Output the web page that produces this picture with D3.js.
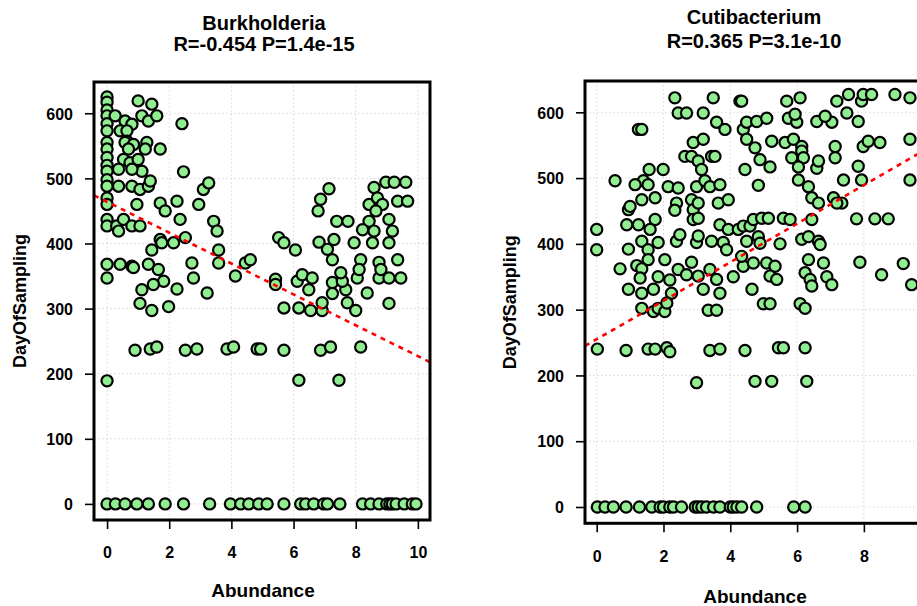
<!DOCTYPE html>
<html>
<head>
<meta charset="utf-8">
<script src="https://cdn.jsdelivr.net/npm/d3@7"></script>
<style>
  body { margin: 0; background: #fff; }
  svg { display: block; }
  text { font-family: "Liberation Sans", Arial, Helvetica, sans-serif; font-weight: bold; fill: #000; }
</style>
</head>
<body>
<svg id="chart" width="917" height="606"></svg>
<script>
// ---- data: [Abundance, DayOfSampling] per sample ----
const burkholderiaPoints = [
  [0,625],[0,617],[0,605],[0,596],[0,584],[0,573],[0,555],[0,545],[0,532],[0,520],[0,511],[0,498],[0,488],[0,470],[0,460],[0,437],[0,427],[0,368],[0,347],[0,189],
  [0.26,596],[0.58,588],[0.8,583],[1.0,619],[1.44,614],[1.12,596],[1.33,588],[1.6,596],[2.41,584],
  [0.42,573],[0.64,573],[0.64,557],[0.58,555],[0.85,552],[1.28,555],[1.23,545],[1.71,545],[0.69,545],
  [0.53,529],[0.74,524],[1.0,529],[0.37,514],[1.12,511],[0.8,514],[2.46,510],
  [0.37,488],[0.8,488],[1.06,483],[1.33,488],[1.39,496],[3.1,483],[3.27,493],
  [0.96,460],[1.71,462],[1.87,450],[2.25,465],[2.95,460],
  [0.31,427],[0.53,437],[0.8,427],[1.06,427],[0.37,419],[2.35,437],[3.43,434],[3.54,419],
  [1.71,406],[1.76,401],[2.14,401],[2.52,409],[1.44,390],[3.59,390],[3.59,370],
  [0.42,368],[0.8,365],[0.85,363],[1.33,368],[1.65,360],[2.73,370],[4.45,370],[4.61,375],
  [1.82,342],[1.49,337],[1.12,329],[2.78,347],[4.13,350],[2.25,330],[3.22,324],
  [1.06,308],[1.44,297],[1.98,303],
  [0.9,236],[1.39,238],[1.6,241],[2.52,236],[2.89,238],[3.86,238],[4.07,241],[4.83,238],
  [4.94,238],[5.69,236],[6.87,236],[7.19,241],[8.16,241],
  [6.17,190],[7.46,190],
  [5.42,345],[5.42,337],[6.12,342],[6.49,329],[6.28,352],[6.6,347],
  [5.69,301],[6.17,301],[6.55,297],[6.92,297],[6.92,309],
  [7.25,340],[7.25,323],[7.68,329],[7.73,309],[8.0,297],[7.57,342],[7.52,355],
  [8.37,324],[9.07,308],[8.05,347],[8.75,347],[9.07,347],[9.45,347],
  [7.14,484],[6.87,468],[6.79,450],[7.39,434],[7.75,434],
  [8.59,486],[8.97,494],[9.24,494],[9.61,494],
  [8.43,460],[8.7,470],[8.86,460],[8.65,450],[9.35,465],[9.67,465],
  [8.43,434],[8.22,421],[8.59,419],[9.07,437],[9.18,419],[9.07,401],
  [7.95,401],[8.54,401],[5.52,409],[5.69,401],[6.06,390],
  [6.82,402],[7.09,391],[7.3,406],[7.25,375],[8.16,375],[8.11,360],
  [8.75,371],[8.81,360],[9.35,375],
  [0,0],[0.27,0],[0.58,0],[0.96,0],[1.33,0],[1.87,0],[2.46,0],[3.3,0],[3.97,0],[4.3,0],[4.56,0],[4.88,0],[5.15,0],
  [5.69,0],[6.23,0],[6.39,0],[6.65,0],[6.97,0],[7.09,0],[7.49,0],[8.22,0],[8.48,0],[8.75,0],[9.0,0],[9.1,0],
  [9.18,0],[9.3,0],[9.56,0],[9.82,0],[9.94,0]
];

const cutibacteriumPoints = [
  [2.34,622],[3.49,622],[4.29,617],[2.44,599],[2.69,599],[3.19,599],[3.59,585],[3.84,574],[4.39,574],[4.49,585],[4.49,559],[1.25,574],[1.35,574],
  [2.89,554],[3.19,559],[2.64,533],[2.84,533],[3.04,526],[3.44,533],[3.54,533],[3.14,513],[4.44,513],[1.57,513],[1.99,513],
  [0.55,496],[1.4,496],[1.15,490],[1.54,490],[2.14,487],[2.44,485],[2.99,487],[3.24,496],[3.39,487],[3.69,490],
  [1.35,467],[1.75,470],[2.84,467],[2.39,462],[2.34,451],[2.89,452],[3.04,462],[3.64,462],[3.94,467],[0.95,452],[1.0,457],
  [1.75,437],[1.6,422],[2.89,437],[3.04,439],[0.9,429],[1.25,429],[0,422],[3.69,429],[3.94,422],[4.24,422],[4.39,427],[4.59,427],
  [1.35,404],[1.84,402],[2.39,404],[2.99,402],[3.44,404],[3.79,402],[3.89,391],[4.49,404],[2.49,414],[3.04,412],
  [0,391],[0.95,392],[1.54,391],[1.54,376],[2.04,376],[2.84,372],
  [0.7,362],[1.2,367],[1.35,362],[2.44,361],[2.69,353],[3.39,361],[3.59,346],[4.09,350],[4.39,366],
  [1.3,348],[1.84,350],[2.19,345],[3.04,351],
  [0.95,331],[1.35,325],[1.7,331],[2.24,325],[3.19,331],[3.69,325],[4.65,331],
  [1.35,302],[1.7,297],[1.84,302],[2.04,297],[2.1,310],[3.34,299],[3.59,299],
  [0.02,240],[0.88,238],[1.54,240],[1.75,240],[2.1,242],[2.19,236],[3.39,238],[3.69,240],[4.44,238],[5.44,242],[5.59,242],[6.24,242],
  [2.99,189],[4.74,191],[5.24,191],[6.29,191],
  [4.34,617],[5.69,617],[6.09,622],[7.19,617],[7.54,627],[7.93,617],[7.98,627],[8.23,627],[8.93,627],[9.38,622],
  [4.79,586],[5.09,591],[5.74,591],[5.99,585],[5.94,597],[6.59,586],[7.04,585],[6.84,594],[7.49,599],[7.83,586],
  [4.74,546],[5.24,556],[5.64,554],[5.89,559],[6.14,548],[6.14,541],[7.14,548],[7.14,531],[7.98,548],[8.13,556],[8.48,554],[9.38,559],
  [4.89,528],[5.19,517],[5.84,531],[6.19,531],[6.04,517],[6.59,515],[6.64,526],[7.83,518],
  [4.84,489],[6.04,497],[6.34,487],[7.39,497],[7.93,497],[9.38,497],
  [6.44,470],[6.64,462],[7.09,470],[7.34,462],[7.19,462],
  [4.69,437],[4.94,439],[5.14,439],[5.59,439],[5.79,437],[6.44,437],
  [7.78,438],[8.33,438],[8.73,438],
  [4.84,411],[4.89,401],[5.49,400],[6.14,407],[6.34,411],[6.64,404],[6.69,399],
  [6.34,376],[6.79,371],[7.88,372],[9.18,370],[4.34,381],[4.69,371],[5.09,371],[5.34,366],
  [6.24,356],[6.39,346],[6.44,336],[6.89,350],[7.04,338],[5.19,351],[5.39,346],[8.53,353],[9.43,338],
  [4.99,309],[5.19,309],[6.09,309],[6.24,302],
  [0.02,0],[0.25,0],[0.5,0],[0.88,0],[1.28,0],[1.65,0],[1.9,0],[2.0,0],[2.19,0],[2.3,0],[2.54,0],[2.95,0],
  [3.04,0],[3.15,0],[3.29,0],[3.5,0],[3.69,0],[4.0,0],[4.09,0],[4.2,0],[4.34,0],[4.79,0],[5.9,0],[6.24,0]
];

const panelTitles = ["Burkholderia", "Cutibacterium"];
const panelStats = ["R=-0.454 P=1.4e-15", "R=0.365 P=3.1e-10"];
const xTicksBurkholderia = [0, 2, 4, 6, 8, 10];
const xTicksCutibacterium = [0, 2, 4, 6, 8];
const yTicks = [0, 100, 200, 300, 400, 500, 600];
// linear fit: [intercept, slope]
const fitBurkholderia = [464, -23.7];
const fitCutibacterium = [255, 29.3];
const xAxisTitle = "Abundance";
const yAxisTitle = "DayOfSampling";

// ---- layout ----
const panels = [
  { points: burkholderiaPoints, xTicks: xTicksBurkholderia, fit: fitBurkholderia,
    title: panelTitles[0], stats: panelStats[0],
    left: 94, right: 430, top: 82, bottom: 520,
    xDomain: [-0.42, 10.39], yDomain: [-24.7, 648],
    titleX: 264, titleY1: 29.5, titleY2: 50.5,
    xTickLabelY: 558, xTitleY: 597, yTickLabelX: 73, yTitleX: 20 },
  { points: cutibacteriumPoints, xTicks: xTicksCutibacterium, fit: fitCutibacterium,
    title: panelTitles[1], stats: panelStats[1],
    left: 585, right: 923, top: 81, bottom: 523.3,
    xDomain: [-0.35, 9.77], yDomain: [-24.8, 647.6],
    titleX: 754, titleY1: 23.5, titleY2: 47.5,
    xTickLabelY: 562, xTitleY: 603, yTickLabelX: 564, yTitleX: 510 }
];

const svg = d3.select("#chart");
svg.append("rect").attr("width", 917).attr("height", 606).attr("fill", "#fff");

panels.forEach((p, i) => {
  const x = d3.scaleLinear().domain(p.xDomain).range([p.left, p.right]);
  const y = d3.scaleLinear().domain(p.yDomain).range([p.bottom, p.top]);
  const g = svg.append("g");

  const clipId = "plotclip" + i;
  svg.append("defs").append("clipPath").attr("id", clipId)
    .append("rect").attr("x", p.left).attr("y", p.top)
    .attr("width", p.right - p.left).attr("height", p.bottom - p.top);

  // dotted grid at tick positions
  const grid = g.append("g").attr("stroke", "#d6d6d6").attr("stroke-width", 1)
    .attr("stroke-dasharray", "1.5,2.5");
  grid.selectAll("line.v").data(p.xTicks).join("line").attr("class", "v")
    .attr("x1", d => x(d)).attr("x2", d => x(d)).attr("y1", p.top).attr("y2", p.bottom);
  grid.selectAll("line.h").data(yTicks).join("line").attr("class", "h")
    .attr("x1", p.left).attr("x2", p.right).attr("y1", d => y(d)).attr("y2", d => y(d));

  // samples
  g.append("g").attr("clip-path", `url(#${clipId})`)
    .selectAll("circle").data(p.points).join("circle")
    .attr("cx", d => x(d[0])).attr("cy", d => y(d[1])).attr("r", 5.6)
    .attr("fill", "#90ee90").attr("stroke", "#000").attr("stroke-width", 2.2);

  // fitted trend line
  const [b0, b1] = p.fit;
  g.append("line").attr("clip-path", `url(#${clipId})`)
    .attr("x1", x(p.xDomain[0])).attr("y1", y(b0 + b1 * p.xDomain[0]))
    .attr("x2", x(p.xDomain[1])).attr("y2", y(b0 + b1 * p.xDomain[1]))
    .attr("stroke", "#ff0000").attr("stroke-width", 2.6).attr("stroke-dasharray", "5,5");

  // frame
  g.append("rect").attr("x", p.left).attr("y", p.top)
    .attr("width", p.right - p.left).attr("height", p.bottom - p.top)
    .attr("fill", "none").attr("stroke", "#000").attr("stroke-width", 3);

  // x axis
  const xAxis = d3.axisBottom(x).tickValues(p.xTicks).tickFormat(d3.format("d"))
    .tickSizeOuter(0).tickSizeInner(9).tickPadding(0);
  const xa = g.append("g").attr("transform", `translate(0,${p.bottom})`).call(xAxis);
  xa.select(".domain").remove();
  xa.selectAll(".tick line").attr("stroke", "#000").attr("stroke-width", 1.6);
  xa.selectAll(".tick text").attr("y", p.xTickLabelY - p.bottom).attr("dy", 0)
    .style("font-size", "16px");

  // y axis
  const yAxis = d3.axisLeft(y).tickValues(yTicks).tickFormat(d3.format("d"))
    .tickSizeOuter(0).tickSizeInner(9).tickPadding(0);
  const ya = g.append("g").attr("transform", `translate(${p.left},0)`).call(yAxis);
  ya.select(".domain").remove();
  ya.selectAll(".tick line").attr("stroke", "#000").attr("stroke-width", 1.6);
  ya.selectAll(".tick text").attr("x", p.yTickLabelX - p.left).attr("dy", "0.36em")
    .attr("text-anchor", "end").style("font-size", "16px");
  svg.selectAll(".tick text").attr("fill", "#000").style("font-family", null);

  // titles
  g.append("text").attr("x", p.titleX).attr("y", p.titleY1).attr("text-anchor", "middle")
    .style("font-size", "20px").text(p.title);
  g.append("text").attr("x", p.titleX).attr("y", p.titleY2).attr("text-anchor", "middle")
    .style("font-size", "20px").text(p.stats);

  // axis titles
  g.append("text").attr("x", (p.left + p.right) / 2 + 1).attr("y", p.xTitleY)
    .attr("text-anchor", "middle").style("font-size", "19px").text(xAxisTitle);
  g.append("text").attr("transform", `translate(${p.yTitleX},${(p.top + p.bottom) / 2}) rotate(-90)`)
    .attr("text-anchor", "middle").attr("dy", "0.36em").style("font-size", "18px").text(yAxisTitle);
});
</script>
</body>
</html>
